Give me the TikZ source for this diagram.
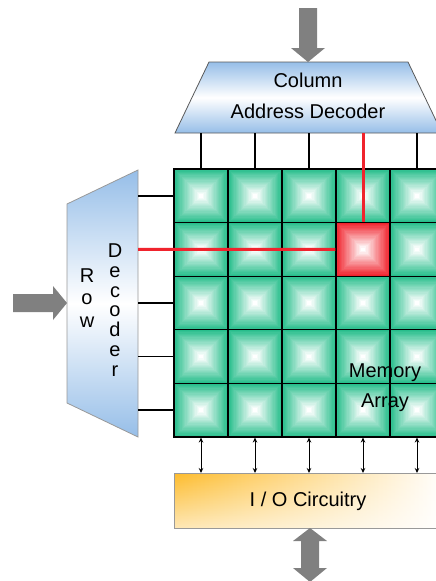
\documentclass[tikz,border=0pt]{standalone}
\usepackage{fontspec}
\setmainfont{Liberation Sans}
\usetikzlibrary{arrows.meta, fadings}

\definecolor{cellgreen}{RGB}{40,190,140}
\definecolor{cellred}{RGB}{240,35,45}
\definecolor{decblue}{RGB}{150,190,232}
\definecolor{ioorange}{RGB}{253,188,45}
\definecolor{arrowgray}{RGB}{128,128,128}

\begin{document}
\begin{tikzpicture}[x=1pt, y=1pt,
        font=\fontsize{20}{24}\selectfont,
        fatarrow/.style={fill=arrowgray},
        decoder/.style={draw=black!65, line width=0.8pt, top color=decblue, bottom color=decblue, middle color=white},
        wire/.style={line width=1.6pt},
        selwire/.style={line width=3pt, cellred},
        iowire/.style={line width=1pt, {Stealth[length=5pt,width=4.5pt]}-{Stealth[length=5pt,width=4.5pt]}},
        cell/.style={draw, line width=1.1pt, inner sep=0pt, minimum width=54pt, minimum height=53.6pt,
            path picture={
                \foreach \k in {0,...,20}{
                    \pgfmathsetmacro\pct{100-\k*5}
                    \pgfmathsetmacro\ins{\k*1.25}
                    \fill[#1!\pct!white] ([shift={(\ins,\ins)}]path picture bounding box.south west)
                        rectangle ([shift={(-\ins,-\ins)}]path picture bounding box.north east);
                }
            }},
        cell/.default=cellgreen]
        \useasboundingbox (0,0) rectangle (436,-581);
        \clip (0,0) rectangle (436,-581);

        % column address decoder
        \coordinate (CA) at (209,-62);
        \coordinate (CB) at (408,-62);
        \coordinate (CC) at (442,-133);
        \coordinate (CD) at (175,-133);
        \path[decoder] (CA)--(CB)--(CC)--(CD)--cycle;
        \node[align=center, font=\fontsize{20}{31}\selectfont] (coldec) at (308,-96) {Column\\Address Decoder};

        % row decoder
        \coordinate (RA) at (67,-204);
        \coordinate (RB) at (138,-170);
        \coordinate (RC) at (138,-437);
        \coordinate (RD) at (67,-403);
        \path[decoder, draw=black!40] (RA)--(RB)--(RC)--(RD)--cycle;
        \node[align=center, font=\fontsize{20}{22.5}\selectfont] (rowword) at (87,-298) {R\\o\\w};
        \node[align=center, font=\fontsize{20}{19.8}\selectfont] (decword) at (115,-310) {D\\e\\c\\o\\d\\e\\r};

        % memory array
        \foreach \i in {1,...,5}
            \foreach \j in {1,...,5}{
                \pgfmathsetmacro\cx{174+54*(\i-0.5)}
                \pgfmathsetmacro\cy{-169-53.6*(\j-0.5)}
                \node[cell] (cell-\i-\j) at (\cx,\cy) {};
            }
        \node[cell=cellred] (cell-4-2) at (363,-249.4) {};
        \node[align=center, font=\fontsize{20}{30}\selectfont] (arrayname) at (385,-388) {Memory\\Array};

        % I/O circuitry
        \shade[left color=ioorange, middle color=ioorange!35, right color=white] (174,-473) rectangle (445,-528);
        \fill[white, path fading=north, fill opacity=0.65] (174,-473) rectangle (445,-528);
        \draw[black!40, line width=0.6pt] (174,-473) rectangle (445,-528);
        \coordinate (iocirc) at (310,-473);
        \node (iotext) at (308,-501) {I / O Circuitry};

        % word and bit lines
        \foreach \i in {1,...,5}{
            \coordinate (cd-\i) at (cell-\i-1 |- CD);
            \draw[wire] (cd-\i) -- (cell-\i-1.north);
            \draw[iowire] (cell-\i-5.south) -- (cell-\i-5.south |- iocirc);
        }
        \foreach \j in {1,...,5}{
            \coordinate (rd-\j) at (cell-1-\j -| RB);
            \draw[wire] (rd-\j) -- (cell-1-\j.west);
        }
        \draw[selwire] (cd-4) -- (cell-4-2.north);
        \draw[selwire] (rd-2) -- (cell-4-2.west);

        % address and data arrows
        \fill[fatarrow] (CA -| coldec) -- ++(17,14) -- ++(-8,0) -- ++(0,40) -- ++(-18,0) -- ++(0,-40) -- ++(-8,0) -- cycle;
        \fill[fatarrow] (67,-303) -- ++(-14,17) -- ++(0,-8) -- ++(-40,0) -- ++(0,-18) -- ++(40,0) -- ++(0,-8) -- cycle;
        \fill[fatarrow] (310,-528) -- ++(17,-13) -- ++(-8,0) -- ++(0,-27) -- ++(8,0) -- (310,-582) -- ++(-17,14) -- ++(8,0) -- ++(0,27) -- ++(-8,0) -- cycle;
    \end{tikzpicture}
\end{document}
